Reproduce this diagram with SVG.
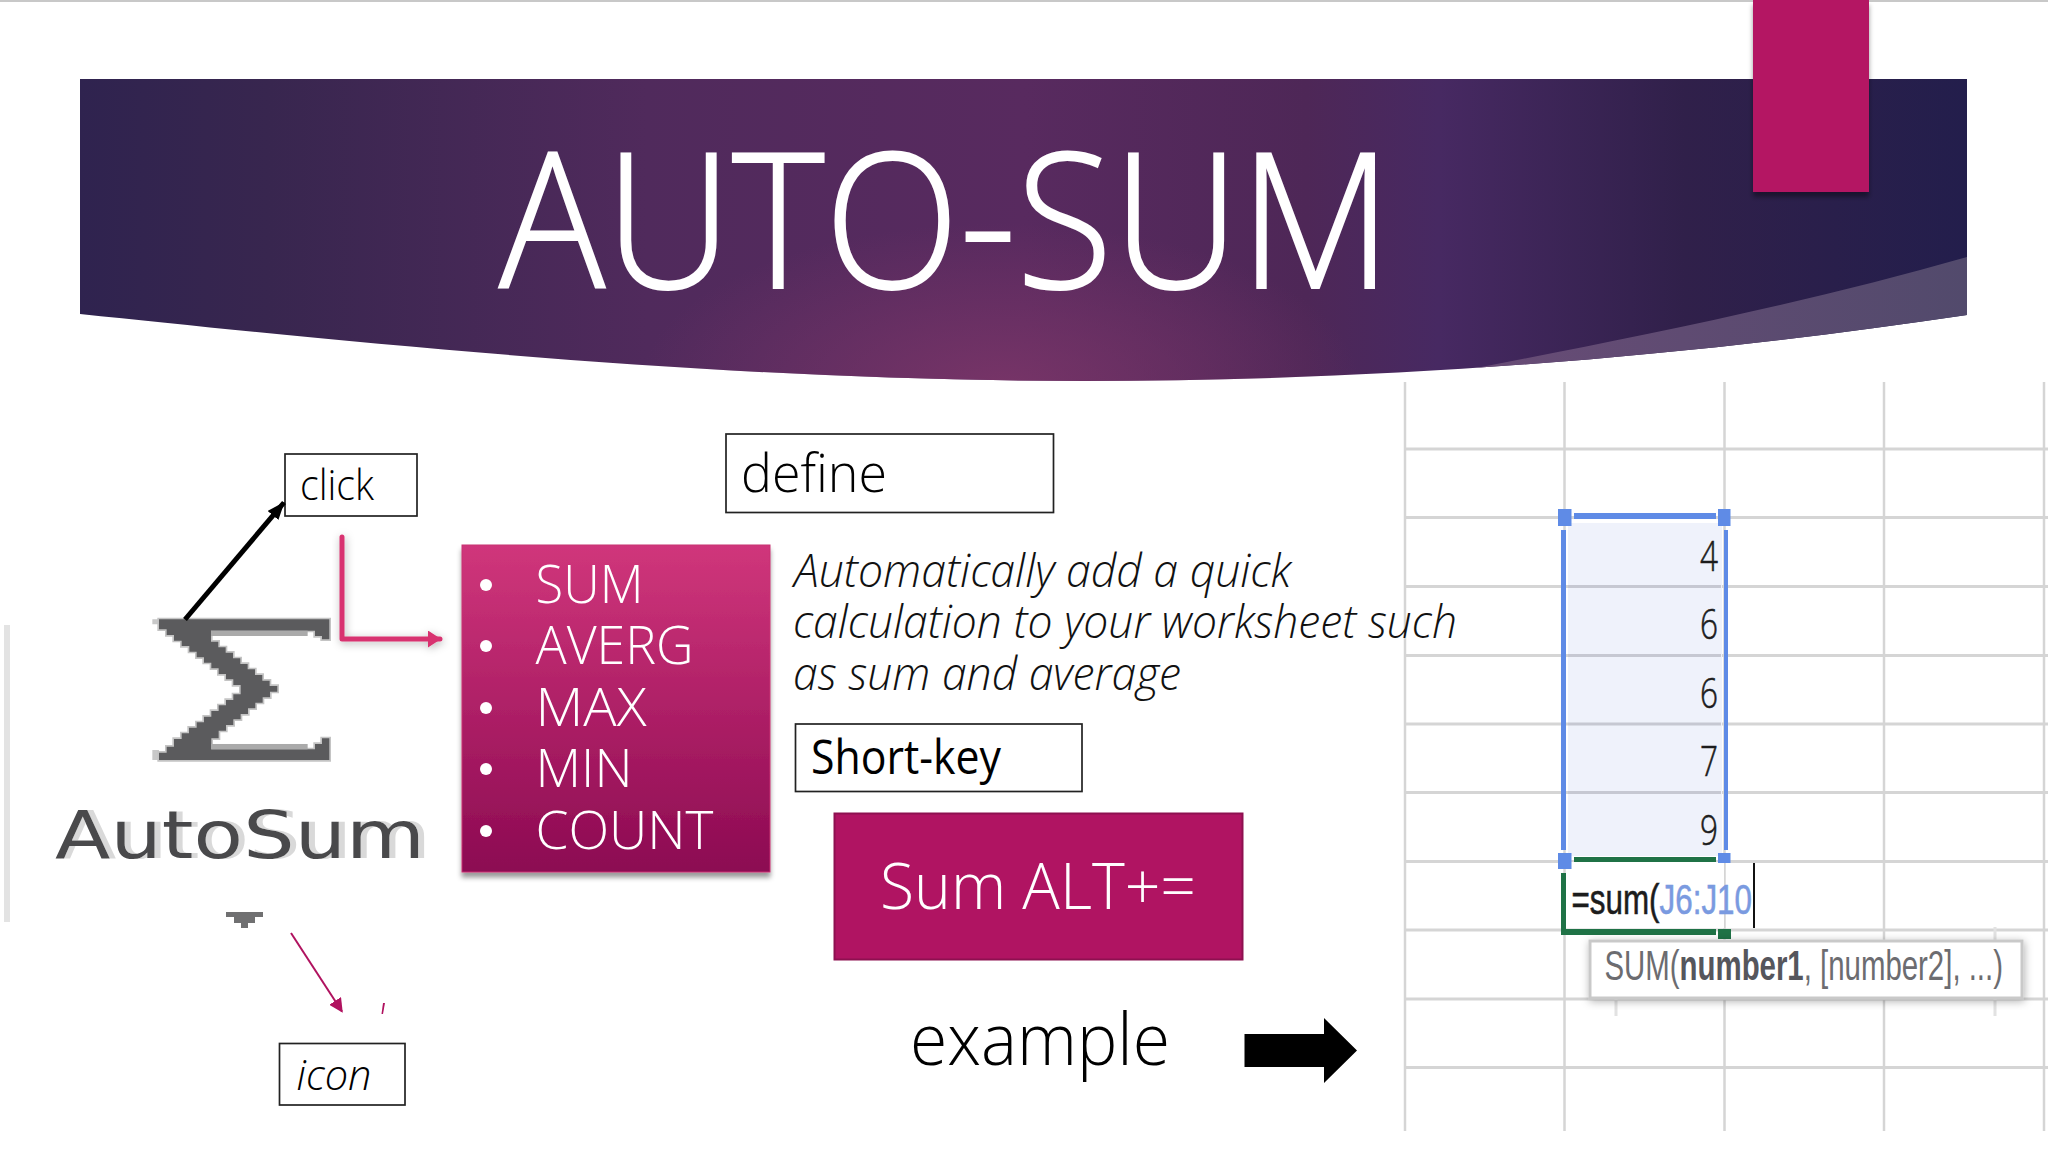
<svg xmlns="http://www.w3.org/2000/svg" width="2048" height="1152" viewBox="0 0 2048 1152">
<style>
text{font-family:"Open Sans","Noto Sans","Liberation Sans",sans-serif;font-weight:300}
.box{fill:#fff;stroke:#222;stroke-width:1.7}
.lbl{fill:#000}
.li{fill:#fff;font-size:54px}
.bul{fill:#fff}
.desc{fill:#111;font-size:46px;font-style:italic}
.gv{stroke:#d5d5d5;stroke-width:2.5}
.gh{stroke:#d5d5d5;stroke-width:3}
.gi{stroke:#c6c8d2;stroke-width:3}
.cell{font-family:"Liberation Sans",sans-serif;font-weight:400;font-size:43px;fill:#1c1c1c;stroke:#1c1c1c;stroke-width:.6}
.tip{font-family:"Liberation Sans",sans-serif;font-weight:400;font-size:42px;fill:#6c6c70}
.blue{fill:#5f8be6}
.green{fill:#1f7246}
</style>
<defs>
<linearGradient id="bn" x1="0" x2="1" y1="0" y2="0">
<stop offset="0" stop-color="#2f234f"/><stop offset=".1" stop-color="#38264f"/><stop offset=".3" stop-color="#502a5c"/><stop offset=".5" stop-color="#582a5f"/><stop offset=".65" stop-color="#4e2757"/><stop offset=".72" stop-color="#472962"/><stop offset=".85" stop-color="#30204a"/><stop offset="1" stop-color="#231e4c"/>
</linearGradient>
<radialGradient id="glow" gradientUnits="userSpaceOnUse" cx="1000" cy="385" r="360" gradientTransform="translate(0 212) scale(1 .45)">
<stop offset="0" stop-color="#7a3568" stop-opacity=".9"/><stop offset="1" stop-color="#7a3568" stop-opacity="0"/>
</radialGradient>
<linearGradient id="sw" x1="0" x2="1" y1="0" y2="0"><stop offset="0" stop-color="#6c4c78"/><stop offset="1" stop-color="#524a6c"/></linearGradient>
<linearGradient id="lg" x1="0" x2="0" y1="0" y2="1"><stop offset="0" stop-color="#d0367b"/><stop offset="1" stop-color="#8c0a52"/></linearGradient>
<clipPath id="bc"><path d="M80 79H1967V315C1680 358 1380 381 1084 381C720 381 350 342 80 314Z"/></clipPath>
<filter id="sh" x="-10%" y="-10%" width="120%" height="120%"><feDropShadow dx="0" dy="5" stdDeviation="2.5" flood-color="#000" flood-opacity=".4"/></filter>
<filter id="sh2" x="-10%" y="-20%" width="120%" height="140%"><feDropShadow dx="1" dy="2" stdDeviation="4" flood-color="#000" flood-opacity=".3"/></filter>
<filter id="halo" x="-5%" y="-10%" width="110%" height="120%"><feOffset in="SourceAlpha" dx="6" result="o"/><feFlood flood-color="#d9d9d9"/><feComposite in2="o" operator="in" result="c"/><feMerge><feMergeNode in="c"/><feMergeNode in="SourceGraphic"/></feMerge></filter>
<marker id="ab" viewBox="0 0 18 14" refX="17" refY="7" markerUnits="userSpaceOnUse" markerWidth="18" markerHeight="14" orient="auto"><path d="M0 0L18 7L0 14Z" fill="#000"/></marker>
<marker id="ap" viewBox="0 0 13 17" refX="12" refY="8.500" markerUnits="userSpaceOnUse" markerWidth="13" markerHeight="17" orient="auto"><path d="M0 0L13 8.500L0 17Z" fill="#d8336f"/></marker>
<marker id="at" viewBox="0 0 10 10" refX="9" refY="5" markerWidth="7" markerHeight="7" orient="auto"><path d="M0 0L10 5L0 10Z" fill="#b0125f"/></marker>
</defs>
<rect width="2048" height="1152" fill="#fff"/>
<rect x="0" y="0" width="2048" height="2" fill="#c8c8c8"/>

<g id="banner">
<g clip-path="url(#bc)">
<rect x="80" y="79" width="1887" height="303" fill="url(#bn)"/>
<rect x="80" y="79" width="1887" height="303" fill="url(#glow)"/>
<path d="M1400 400L1476 368C1620 340 1800 305 1967 257V400Z" fill="url(#sw)"/>
</g>
<text x="499" y="288" font-size="189" fill="#fff" stroke="#fff" stroke-width="2" textLength="893" lengthAdjust="spacingAndGlyphs">AUTO-SUM</text>
</g>
<rect id="tab" x="1753" y="0" width="116" height="192" fill="#b41264" filter="url(#sh)"/>

<g id="sheet">
<g class="gv">
<path d="M1405 382V1131M1564.500 382V1131M1724.500 382V1131M1884 382V1131M2044 382V1131"/>
</g>
<g class="gh">
<path d="M1405 449H2048M1405 517.500H2048M1405 586.500H2048M1405 655.500H2048M1405 724H2048M1405 792.500H2048M1405 861.500H2048M1405 930H2048M1405 999H2048M1405 1067.500H2048"/>
</g>
<rect x="1568" y="523" width="154" height="333" fill="#eff2fb"/>
<path class="gi" d="M1568 586.500H1721M1568 655.500H1721M1568 724H1721M1568 792.500H1721"/>
<rect x="1566" y="862" width="158" height="66" fill="#fff"/>
<g class="cell">
<text x="1700" y="571" textLength="18" lengthAdjust="spacingAndGlyphs">4</text>
<text x="1700" y="639" textLength="18" lengthAdjust="spacingAndGlyphs">6</text>
<text x="1700" y="708" textLength="18" lengthAdjust="spacingAndGlyphs">6</text>
<text x="1700" y="776" textLength="18" lengthAdjust="spacingAndGlyphs">7</text>
<text x="1700" y="845" textLength="18" lengthAdjust="spacingAndGlyphs">9</text>
</g>
<g class="blue">
<rect x="1574" y="513" width="142" height="6"/>
<rect x="1561" y="530" width="5" height="320"/>
<rect x="1724" y="530" width="4" height="320"/>
<rect x="1558" y="509" width="13.500" height="17"/>
<rect x="1718" y="509" width="12.500" height="17"/>
<rect x="1558" y="853" width="13.500" height="16"/>
<rect x="1718" y="853" width="12.500" height="10"/>
</g>
<g class="green">
<rect x="1574" y="857" width="142" height="5"/>
<rect x="1561" y="873" width="5" height="62"/>
<rect x="1561" y="929" width="155" height="6"/>
<rect x="1718" y="929" width="13" height="10"/>
</g>
<text class="cell" x="1571.500" y="914" textLength="180.500" lengthAdjust="spacingAndGlyphs">=sum(<tspan style="fill:#7a9ae0;stroke:#7a9ae0">J6:J10</tspan></text>
<rect x="1753" y="863" width="2" height="65" fill="#111"/>
<path d="M1616 998V1016M1995 998V1016M1995 927V941" stroke="#e2e2e2" stroke-width="3"/>
<rect x="1590" y="941" width="432" height="57" fill="#fff" stroke="#c9c9c9" stroke-width="3" filter="url(#sh2)"/>
<text class="tip" x="1604.500" y="980" textLength="398.500" lengthAdjust="spacingAndGlyphs">SUM(<tspan style="font-weight:700;fill:#55565c">number1</tspan>, [number2], ...)</text>
</g>

<g id="icon">
<rect x="4" y="625" width="6" height="297" fill="#e3e3e3"/>
<g transform="translate(140 600) scale(.3333)">
<path d="M37 58H57V73H37ZM37 450H57V480H37Z" fill="#c8c8c8"/>
<path d="M57 58H568V118H546V108H525V92H213V125H235V142H257V158H279V175H301V192H323V208H345V225H367V242H389V258H412V275H390V292H368V308H346V325H324V342H302V358H280V375H258V392H236V415H214V448H525V432H546V415H568V480H57V458H80V440H102V417H125V400H147V383H170V367H192V350H214V333H236V316H258V300H280V283H302V255H280V238H258V222H236V205H214V188H192V172H170V155H148V138H125V122H102V105H80V88H57Z" fill="#5b5b5d" stroke="#c4c4c4" stroke-width="10" paint-order="stroke"/>
<rect x="213" y="92" width="290" height="16" fill="#aaa"/>
<rect x="213" y="432" width="290" height="16" fill="#aaa"/>
</g>
<text x="55" y="857.700" font-size="66.700" textLength="370" lengthAdjust="spacingAndGlyphs" filter="url(#halo)" style="font-family:'DejaVu Sans',sans-serif;font-weight:400;fill:#4a4a4c">AutoSum</text>
<path d="M226 912H263V917H255V923H248V928H241V923H234V917H226Z" fill="#707071"/>
<path d="M383 1003L385 1003L383 1014L381.500 1014Z" fill="#b0125f"/>
</g>

<g id="click"><rect class="box" x="285" y="454" width="132" height="62"/>
<text class="lbl" x="300" y="500" font-size="42" textLength="74" lengthAdjust="spacingAndGlyphs">click</text></g>

<g id="icon-label"><rect class="box" x="279.500" y="1043.500" width="125.500" height="61.500"/>
<text class="lbl" x="296.500" y="1090" font-size="43" font-style="italic" textLength="75" lengthAdjust="spacingAndGlyphs">icon</text></g>

<g id="list">
<rect x="462" y="545" width="308" height="327" fill="url(#lg)" stroke="#c83273" stroke-width="1" filter="url(#sh)"/>
<circle class="bul" cx="486" cy="585" r="6"/><circle class="bul" cx="486" cy="646" r="6"/><circle class="bul" cx="486" cy="708" r="6"/><circle class="bul" cx="486" cy="769" r="6"/><circle class="bul" cx="486" cy="831" r="6"/>
<text class="li" x="535.500" y="603" textLength="108" lengthAdjust="spacingAndGlyphs">SUM</text>
<text class="li" x="535.500" y="664" textLength="158" lengthAdjust="spacingAndGlyphs">AVERG</text>
<text class="li" x="535.500" y="725.500" textLength="111" lengthAdjust="spacingAndGlyphs">MAX</text>
<text class="li" x="535.500" y="787" textLength="97" lengthAdjust="spacingAndGlyphs">MIN</text>
<text class="li" x="535.500" y="848.500" textLength="178" lengthAdjust="spacingAndGlyphs">COUNT</text>
</g>

<g id="define"><rect class="box" x="726" y="434" width="327.500" height="78.500"/>
<text class="lbl" x="741" y="491.500" font-size="54" textLength="146" lengthAdjust="spacingAndGlyphs">define</text></g>

<g id="description">
<text class="desc" x="794" y="587" textLength="497" lengthAdjust="spacingAndGlyphs">Automatically add a quick</text>
<text class="desc" x="793" y="638" textLength="664" lengthAdjust="spacingAndGlyphs">calculation to your worksheet such</text>
<text class="desc" x="793" y="690" textLength="388" lengthAdjust="spacingAndGlyphs">as sum and average</text>
</g>

<g id="short-key"><rect class="box" x="795.500" y="724" width="286.500" height="67.500"/>
<text class="lbl" x="811" y="773.500" font-size="47" textLength="190" lengthAdjust="spacingAndGlyphs" style="font-weight:400">Short-key</text></g>

<g id="shortcut"><rect x="834.500" y="813.500" width="408" height="146" fill="#b01462" stroke="#8e1050" stroke-width="2"/>
<text x="880" y="909" font-size="64" fill="#fff" textLength="316" lengthAdjust="spacingAndGlyphs">Sum ALT+=</text></g>

<g id="example"><text class="lbl" x="910" y="1065" font-size="72" textLength="260" lengthAdjust="spacingAndGlyphs">example</text></g>

<g id="connectors">
<path d="M185 619.500L284 502.500" fill="none" stroke="#000" stroke-width="5" marker-end="url(#ab)"/>
<path d="M342 537V639H440" fill="none" stroke="#d8336f" stroke-width="5" stroke-linecap="round" stroke-linejoin="round" marker-end="url(#ap)" filter="url(#sh2)"/>
<path d="M291 933L342 1011.500" fill="none" stroke="#b0125f" stroke-width="2" marker-end="url(#at)"/>
<path d="M1244.500 1034H1324V1018L1357 1050.500L1324 1083V1067H1244.500Z" fill="#000"/>
</g>
</svg>
